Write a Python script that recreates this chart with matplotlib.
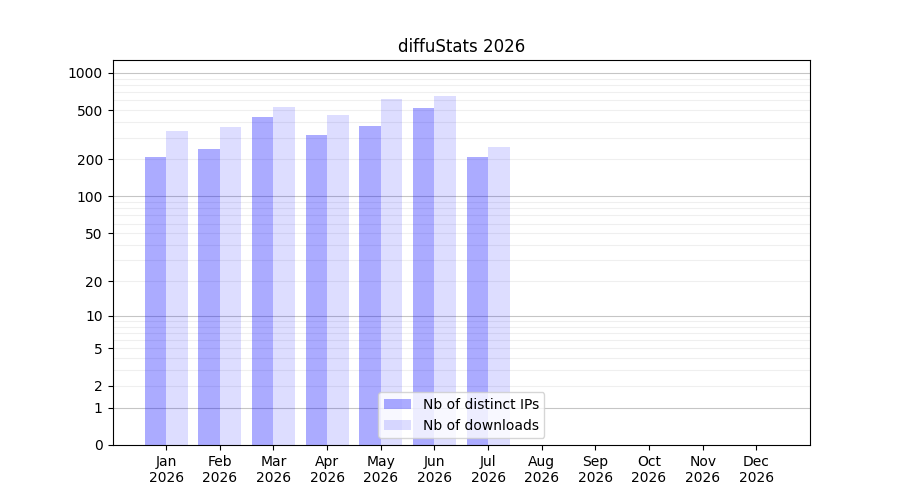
import numpy as np
import matplotlib.pyplot as plt
from matplotlib.ticker import FixedLocator, NullFormatter

# data
months = ['Jan', 'Feb', 'Mar', 'Apr', 'May', 'Jun', 'Jul', 'Aug', 'Sep', 'Oct', 'Nov', 'Dec']
year = 2026
distinct_ips = [209, 243, 441, 315, 373, 521, 209, 0, 0, 0, 0, 0]
downloads = [340, 366, 531, 458, 616, 652, 252, 0, 0, 0, 0, 0]

y_ticks = [0, 1, 2, 5, 10, 20, 50, 100, 200, 500, 1000]


def fwd(v):
    return np.log10(1 + np.clip(v, 0, None))


def inv(v):
    return 10 ** v - 1


x = np.arange(1, len(months) + 1)
w = 0.4

fig, ax = plt.subplots(figsize=(9, 5), dpi=100)
ax.set_yscale('function', functions=(fwd, inv))

ax.bar(x - w / 2, distinct_ips, w, color='blue', alpha=0.33, label='Nb of distinct IPs')
ax.bar(x + w / 2, downloads, w, color='blue', alpha=0.135, label='Nb of downloads')

# grid: decades darker, in-between values lighter
for d in [1, 10, 100, 1000]:
    ax.axhline(d, color='gray', alpha=0.45, lw=0.8, zorder=0.5)
minor = [m * d for d in [1, 10, 100] for m in range(2, 10)]
for v in minor:
    ax.axhline(v, color='gray', alpha=0.12, lw=0.8, zorder=0.5)

ax.set_ylim(0, 1270)
ax.set_xlim(0, 13)
ax.yaxis.set_major_locator(FixedLocator(y_ticks))
ax.set_yticklabels([str(t) for t in y_ticks])
ax.yaxis.set_minor_locator(FixedLocator([]))
ax.yaxis.set_minor_formatter(NullFormatter())
ax.set_xticks(x)
ax.set_xticklabels([f'{m}\n{year}' for m in months])

ax.set_title(f'diffuStats {year}')
ax.legend(loc='lower center')

plt.savefig('out.png')
